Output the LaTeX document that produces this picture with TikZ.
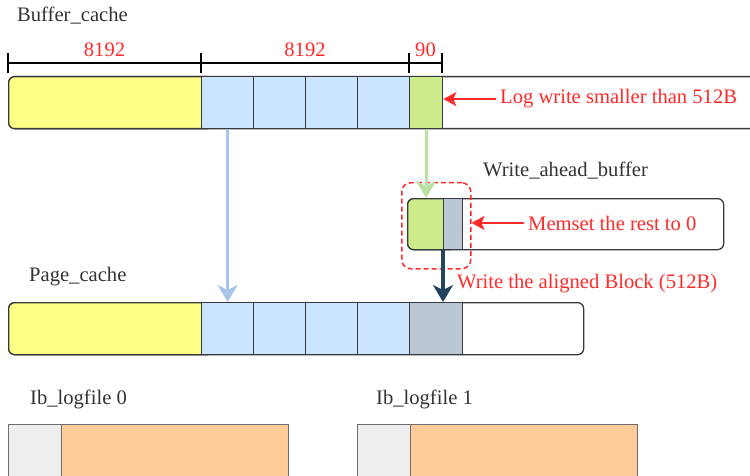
\documentclass[tikz,border=0pt]{standalone}
\usepackage{fontspec}
\setmainfont{Liberation Serif}
\usetikzlibrary{arrows.meta}

\definecolor{edgegray}{HTML}{36393D}
\definecolor{boxgray}{HTML}{6E6E6E}
\definecolor{txtgray}{HTML}{333333}
\definecolor{redtxt}{HTML}{FF2A2A}
\definecolor{fillyellow}{HTML}{FFFF88}
\definecolor{fillblue}{HTML}{CCE5FF}
\definecolor{fillgreen}{HTML}{CDEB8B}
\definecolor{fillslate}{HTML}{BAC8D3}
\definecolor{filllight}{HTML}{EEEEEE}
\definecolor{fillorange}{HTML}{FFCC99}
\definecolor{arrblue}{HTML}{A9C4EB}
\definecolor{arrgreen}{HTML}{B9E0A5}
\definecolor{arrdark}{HTML}{23445D}

\begin{document}
\begin{tikzpicture}[x=1pt,y=1pt,yscale=-1,
    cell/.style={draw=edgegray, line width=1.3pt, anchor=north west, inner sep=0pt, minimum height=52pt},
    lbl/.style={font=\fontsize{20.6}{24}\selectfont, text=txtgray, inner sep=0pt, anchor=base west},
    redlbl/.style={font=\fontsize{20.6}{24}\selectfont, text=redtxt, inner sep=4pt, anchor=base west},
    dimline/.style={line width=1.3pt, black},
    redarrow/.style={draw=redtxt, line width=1.6pt, -{Stealth[length=13pt,width=14pt,inset=3pt]}},
    fatarrow/.style={line width=3.2pt, -{Stealth[length=17pt,width=20pt,inset=5pt]}}]
    \useasboundingbox (0,0) rectangle (750,476);
    \clip (0,0) rectangle (750,476);

    % Buffer_cache
    \node[lbl] (bctitle) at (17,22) {Buffer\_cache};
    \node[cell, fill=white, rounded corners=6pt, minimum width=800pt] (bcframe) at (8,76) {};
    \node[cell, fill=fillyellow, rounded corners=6pt, minimum width=205pt] (bcyellow) at (8,76) {};
    \foreach \i in {0,...,3}
        \node[cell, fill=fillblue, minimum width=52pt] (bcblue\i) at (201+52*\i,76) {};
    \node[cell, fill=fillgreen, minimum width=33pt] (bcgreen) at (409,76) {};

    % dimension line
    \draw[dimline] (8,63) -- (442,63);
    \foreach \x in {8,201,409,442}
        \draw[dimline] (\x,53) -- (\x,73);
    \node[font=\fontsize{20.6}{24}\selectfont, text=redtxt, inner sep=0pt] (dimA) at (104.5,50) {8192};
    \node[font=\fontsize{20.6}{24}\selectfont, text=redtxt, inner sep=0pt] (dimB) at (305,50) {8192};
    \node[font=\fontsize{20.6}{24}\selectfont, text=redtxt, inner sep=0pt] (dimC) at (425.5,50) {90};

    \node[redlbl] (logtxt) at (496,104) {Log write smaller than 512B};
    \draw[redarrow] (logtxt.west) -- (logtxt.west -| bcgreen.east);

    % Write_ahead_buffer
    \node[lbl] (wabtitle) at (483,177) {Write\_ahead\_buffer};
    \node[cell, fill=white, rounded corners=6pt, minimum width=316pt, minimum height=51pt] (wabframe) at (407,198) {};
    \node[cell, fill=fillgreen, rounded corners=6pt, minimum width=48pt, minimum height=51pt] (wabgreen) at (407,198) {};
    \node[cell, fill=fillslate, minimum width=19pt, minimum height=51pt] (wabgray) at (443,198) {};
    \node[draw=redtxt, line width=1.5pt, dash pattern=on 5pt off 3pt, rounded corners=9pt, anchor=north west,
          inner sep=0pt, minimum width=69pt, minimum height=86pt] (walign) at (401,182) {};

    \node[redlbl] (memtxt) at (524,230) {Memset the rest to 0};
    \draw[redarrow] (memtxt.west) -- (memtxt.west -| walign.east);

    % Page_cache
    \node[lbl] (pctitle) at (29,281) {Page\_cache};
    \node[cell, fill=white, rounded corners=6pt, minimum width=575pt] (pcframe) at (8,302) {};
    \node[cell, fill=fillyellow, rounded corners=6pt, minimum width=205pt] (pcyellow) at (8,302) {};
    \foreach \i in {0,...,3}
        \node[cell, fill=fillblue, minimum width=52pt] (pcblue\i) at (201+52*\i,302) {};
    \node[cell, fill=fillslate, minimum width=53pt] (pcgray) at (409,302) {};

    \node[redlbl, inner sep=0pt] (aligntxt) at (457,288) {Write the aligned Block (512B)};

    % arrows between caches
    \draw[fatarrow, arrblue] (bcblue0.south) -- (pcblue0.north);
    \draw[fatarrow, arrgreen] (bcgreen.south) -- (bcgreen.south |- wabframe.north);
    \draw[fatarrow, arrdark] (wabgray.south west) -- (wabgray.south west |- pcgray.north);

    % Ib_logfile 0 and 1
    \node[lbl] (lf0title) at (30,404) {Ib\_logfile 0};
    \node[cell, draw=boxgray, fill=filllight, minimum width=53pt, minimum height=70pt] (lf0head) at (8,424) {};
    \node[cell, draw=boxgray, fill=fillorange, minimum width=227pt, minimum height=70pt] (lf0body) at (61,424) {};
    \node[lbl] (lf1title) at (376,404) {Ib\_logfile 1};
    \node[cell, draw=boxgray, fill=filllight, minimum width=53pt, minimum height=70pt] (lf1head) at (357,424) {};
    \node[cell, draw=boxgray, fill=fillorange, minimum width=227pt, minimum height=70pt] (lf1body) at (410,424) {};
\end{tikzpicture}
\end{document}
